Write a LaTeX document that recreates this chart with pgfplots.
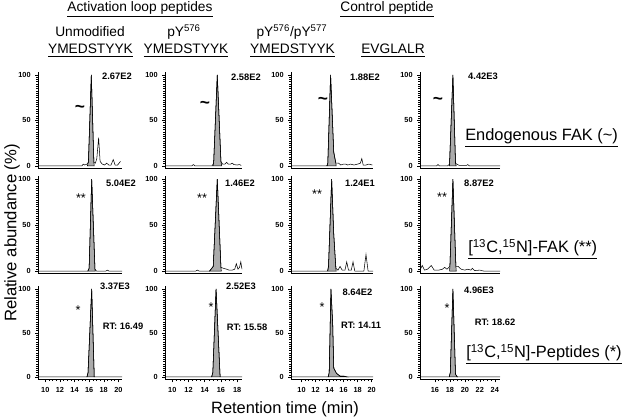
\documentclass[border=0pt]{standalone}
\usepackage{pgfplots}
\pgfplotsset{compat=1.18}
\usepackage{fontspec}
\setmainfont{Liberation Sans}

% pixel position of the reference (x from left, y from top) -> pt
\newcommand\pp[2]{({#1*0.75pt},{(420-#2)*0.75pt})}

\pgfplotsset{
  panel/.style={
    scale only axis, anchor=south west,
    axis x line*=bottom, axis y line*=left,
    axis line style={-, line width=0.5pt},
    ymin=-3, ymax=103, ytick={0,50,100}, minor y tick num=19,
    tick align=outside, major tick length=2pt, minor tick length=1.2pt,
    tick style={line width=0.35pt, black},
    ticklabel style={font=\fontsize{5.5}{6.5}\selectfont\bfseries},
    /pgf/number format/assume math mode=true,
    clip=false},
  notick/.style={xtick=\empty},
  btick/.style={minor x tick num=3},
  c1/.style={xmin=9, xmax=20.5, width=63pt},
  c2/.style={xmin=9.1, xmax=18.6, width=57.75pt},
  c3/.style={xmin=8.5, xmax=20.2, width=61.5pt},
  c4/.style={xmin=14, xmax=24.7, width=60pt},
  r1/.style={height=72.4pt},
  r2/.style={height=73.1pt},
  r3/.style={height=70pt},
  trace/.style={black, line width=0.4pt, mark=none},
  peak/.style={fill=black!33, draw=black, line width=0.4pt, mark=none},
}

\begin{document}
\begin{tikzpicture}
\path[use as bounding box] (0,0) rectangle (468pt,315pt);

% ---------------- row 1: endogenous FAK ----------------
\begin{axis}[panel, c1, r1, notick, at={(28.5pt,188.5pt)}]
\addplot[peak] coordinates {(15.75,0)(15.9,4)(16.3,100)(16.65,4)(16.7,0)} \closedcycle;
\addplot[trace] coordinates {(9,0)(15.0,0)(15.2,2)(15.4,1)(15.7,2)(15.9,4)(16.3,100)(16.65,4)(16.85,3)(17.05,8)(17.3,31)(17.5,5)(17.8,2)(18.1,1)(18.4,3)(18.7,1)(19.0,1)(19.3,7)(19.55,1)(19.9,1)(20.3,5)};
\end{axis}
\begin{axis}[panel, c2, r1, notick, at={(123.75pt,188.5pt)}]
\addplot[peak] coordinates {(15.0,0)(15.1,3)(15.55,100)(16.0,5)(16.1,0)} \closedcycle;
\addplot[trace] coordinates {(9.1,0)(12.4,0)(12.6,1.5)(12.8,0)(14.9,0)(15.1,3)(15.55,100)(16.0,5)(16.2,2)(16.5,2)(16.7,4)(16.9,2)(17.2,2)(17.4,3)(17.6,1.5)(18.0,1)(18.3,1.5)(18.5,0.5)};
\end{axis}
\begin{axis}[panel, c3, r1, notick, at={(218.25pt,188.5pt)}]
\addplot[peak] coordinates {(13.65,0)(13.75,3)(14.15,100)(14.6,15)(14.9,3)(14.95,0)} \closedcycle;
\addplot[trace] coordinates {(8.5,0)(13.6,0)(13.75,3)(14.15,100)(14.6,15)(14.9,3)(15.3,3)(15.6,1)(16.0,2)(16.3,2)(16.6,1)(17.0,2)(17.5,1)(18.0,2)(18.4,3)(18.6,8)(18.8,1)(19.2,1)(19.6,2)(20.1,1)};
\end{axis}
\begin{axis}[panel, c4, r1, notick, at={(315pt,188.5pt)}]
\addplot[peak] coordinates {(17.9,0)(17.95,2)(18.4,100)(18.75,3)(18.85,0)} \closedcycle;
\addplot[trace] coordinates {(14,0)(16.2,0)(16.4,1.5)(16.6,0)(17.7,0)(17.95,2)(18.4,100)(18.75,3)(19.0,1.5)(19.3,0.5)(20.2,0.5)(20.4,1.5)(20.6,0)(24.7,0)};
\end{axis}

% ---------------- row 2: labelled FAK ----------------
\begin{axis}[panel, c1, r2, notick, at={(28.5pt,109.65pt)}]
\addplot[peak] coordinates {(15.85,0)(16.0,3)(16.35,100)(16.8,2)(16.85,0)} \closedcycle;
\addplot[trace] coordinates {(9,0)(15.8,0)(16.0,3)(16.35,100)(16.8,2)(17.0,0)(18.3,0)(18.5,1)(18.7,0)(20.5,0)};
\end{axis}
\begin{axis}[panel, c2, r2, notick, at={(123.75pt,109.65pt)}]
\addplot[peak] coordinates {(14.6,0)(15.05,5)(15.55,100)(16.0,4)(16.05,0)} \closedcycle;
\addplot[trace] coordinates {(9.1,0)(12.9,0)(13.1,1)(13.3,0)(14.6,0)(15.05,5)(15.55,100)(16.0,4)(16.3,3)(16.7,2)(17.0,1)(17.4,1)(17.7,2)(17.9,8)(18.1,2)(18.3,4)(18.45,10)(18.6,2)};
\end{axis}
\begin{axis}[panel, c3, r2, notick, at={(218.25pt,109.65pt)}]
\addplot[peak] coordinates {(13.75,0)(13.85,5)(14.3,100)(14.6,40)(14.9,3)(14.95,0)} \closedcycle;
\addplot[trace] coordinates {(8.5,0)(13.7,0)(13.85,5)(14.3,100)(14.6,40)(14.9,3)(15.2,1)(15.5,5)(15.8,1)(16.2,1)(16.45,10)(16.7,1)(17.1,1)(17.35,10)(17.6,0)(18.9,0)(19.2,18)(19.5,0)(20.2,0)};
\end{axis}
\begin{axis}[panel, c4, r2, notick, at={(315pt,109.65pt)}]
\addplot[peak] coordinates {(17.95,0)(18.0,5)(18.4,100)(18.8,5)(18.85,0)} \closedcycle;
\addplot[trace] coordinates {(14.0,1)(14.3,6)(14.6,1)(15.0,2)(15.5,6)(15.9,1)(16.5,1)(17.0,2)(17.3,4)(17.6,2)(18.0,5)(18.4,100)(18.8,5)(19.1,5)(19.5,2)(20.0,1)(20.4,2)(20.8,1)(21.0,3)(21.3,0.5)(22.0,1)(22.5,0)(24.7,0)};
\end{axis}

% ---------------- row 3: labelled peptides ----------------
\begin{axis}[panel, c1, r3, btick, xtick={10,12,...,20}, at={(28.5pt,30.3pt)}]
\addplot[peak] coordinates {(15.7,0)(15.85,5)(16.35,100)(16.7,0)} \closedcycle;
\addplot[trace] coordinates {(9,0)(15.7,0)(15.85,5)(16.35,100)(16.7,0)(20.5,0)};
\end{axis}
\begin{axis}[panel, c2, r3, btick, xtick={10,12,...,18}, at={(123.75pt,30.3pt)}]
\addplot[peak] coordinates {(14.85,0)(15.0,5)(15.4,100)(15.9,0)} \closedcycle;
\addplot[trace] coordinates {(9.1,0)(14.85,0)(15.0,5)(15.4,100)(15.9,0)(18.6,0)};
\end{axis}
\begin{axis}[panel, c3, r3, btick, xtick={10,12,...,20}, at={(218.25pt,30.3pt)}]
\addplot[peak] coordinates {(13.8,0)(13.95,5)(14.2,100)(14.45,60)(14.6,10)(15.0,4)(15.5,1)(16.0,1)(16.5,0)} \closedcycle;
\addplot[trace] coordinates {(8.5,0)(13.8,0)(13.95,5)(14.2,100)(14.45,60)(14.6,10)(15.0,4)(15.5,1)(16.0,1)(16.5,0)(20.2,0)};
\end{axis}
\begin{axis}[panel, c4, r3, btick, xtick={16,18,...,24}, at={(315pt,30.3pt)}]
\addplot[peak] coordinates {(17.9,0)(18.05,5)(18.4,100)(18.75,3)(19.0,0)} \closedcycle;
\addplot[trace] coordinates {(14,0)(17.9,0)(18.05,5)(18.4,100)(18.75,3)(19.0,0)(24.7,0)};
\end{axis}

% ---------------- headers ----------------
\begin{scope}[every node/.style={font=\fontsize{10.3}{12}\selectfont, anchor=base, inner sep=0pt}]
\node at \pp{140}{12} {\underline{Activation loop peptides}};
\node at \pp{387}{12} {\underline{Control peptide}};
\node at \pp{90}{36.5} {Unmodified};
\node at \pp{184}{36.5} {pY\textsuperscript{576}};
\node at \pp{292}{36.5} {pY\textsuperscript{576}/pY\textsuperscript{577}};
\node at \pp{90.5}{54} {\underline{YMEDSTYYK}};
\node at \pp{186}{54} {\underline{YMEDSTYYK}};
\node at \pp{292.5}{54} {\underline{YMEDSTYYK}};
\node at \pp{393}{54} {\underline{EVGLALR}};
\end{scope}

% ---------------- intensities and retention times ----------------
\begin{scope}[every node/.style={font=\fontsize{7}{8}\selectfont\bfseries, inner sep=0pt}]
\node at \pp{117}{76} {2.67E2};
\node at \pp{246}{77} {2.58E2};
\node at \pp{365}{77} {1.88E2};
\node at \pp{483}{76} {4.42E3};
\node at \pp{121}{183} {5.04E2};
\node at \pp{240}{183} {1.46E2};
\node at \pp{360}{183} {1.24E1};
\node at \pp{479}{183} {8.87E2};
\node at \pp{115}{286} {3.37E3};
\node at \pp{241}{286} {2.52E3};
\node at \pp{357.5}{292} {8.64E2};
\node at \pp{479}{290} {4.96E3};
\node at \pp{123}{326} {RT: 16.49};
\node at \pp{247}{327} {RT: 15.58};
\node at \pp{361}{325} {RT: 14.11};
\node at \pp{495}{322} {RT: 18.62};
\end{scope}

% ---------------- peak markers ----------------
\begin{scope}[every node/.style={font=\fontsize{13}{14}\selectfont\bfseries, inner sep=0pt}]
\node at \pp{80}{109} {\textasciitilde};
\node at \pp{205}{105} {\textasciitilde};
\node at \pp{323}{101} {\textasciitilde};
\node at \pp{438}{101} {\textasciitilde};
\end{scope}
\begin{scope}[every node/.style={font=\fontsize{9.5}{11}\selectfont, inner sep=0pt}]
\node at \pp{81}{198} {**};
\node at \pp{202}{198} {**};
\node at \pp{317}{194} {**};
\node at \pp{442}{197} {**};
\node at \pp{78}{310} {*};
\node at \pp{211}{307} {*};
\node at \pp{322}{307} {*};
\node at \pp{447}{308} {*};
\end{scope}

% ---------------- legends at right ----------------
\begin{scope}[every node/.style={font=\fontsize{12.3}{14}\selectfont, anchor=base west, inner sep=0pt}]
\node at \pp{465}{141} {\underline{Endogenous FAK (\textasciitilde)}};
\node at \pp{468}{253} {\underline{[\textsuperscript{13}C,\textsuperscript{15}N]-FAK (**)}};
\node at \pp{466}{358} {\underline{[\textsuperscript{13}C,\textsuperscript{15}N]-Peptides (*)}};
\end{scope}

% ---------------- axis titles ----------------
\node[rotate=90, font=\fontsize{12.5}{14}\selectfont, inner sep=0pt] at \pp{12}{233} {Relative abundance (\%)};
\node[font=\fontsize{12.3}{14}\selectfont, inner sep=0pt] at \pp{285}{409} {Retention time (min)};
\end{tikzpicture}
\end{document}
